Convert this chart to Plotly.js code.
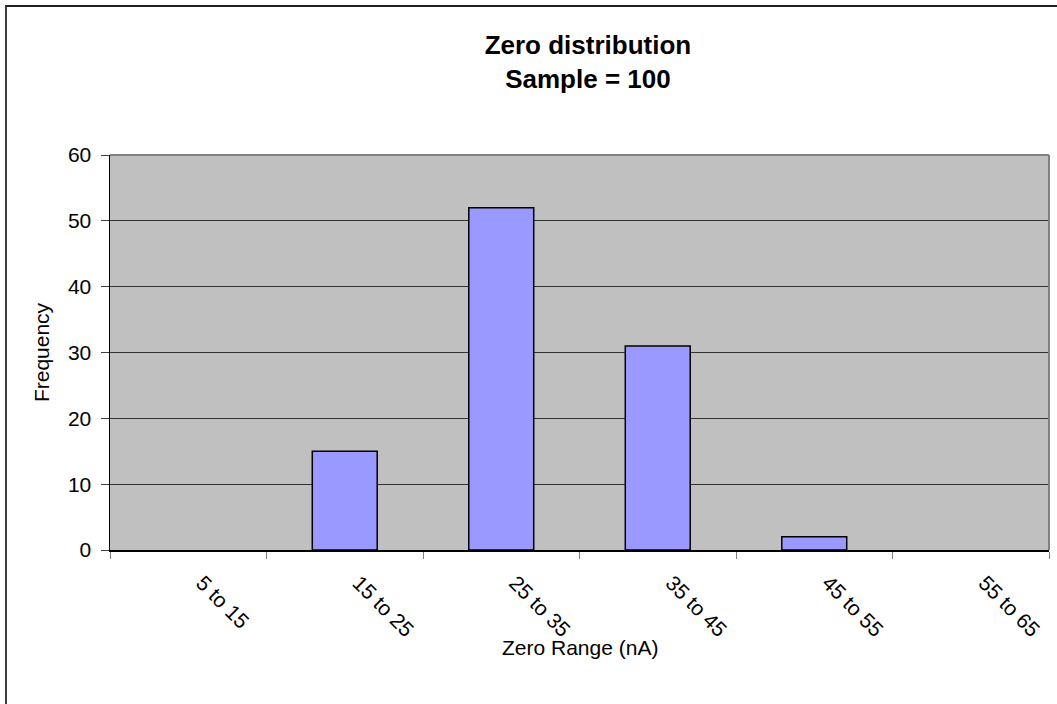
<!DOCTYPE html>
<html>
<head>
<meta charset="utf-8">
<script src="https://cdn.plot.ly/plotly-3.0.1.min.js"></script>
<style>
  html, body { margin: 0; padding: 0; background: #fff; }
  #wrap { position: relative; width: 1057px; height: 704px; overflow: hidden; }
  #chart { position: absolute; left: 0; top: 0; width: 1057px; height: 704px; }
  #frame { position: absolute; left: 5px; top: 5px; width: 1100px; height: 800px;
           border-left: 2px solid #404040; border-top: 2px solid #202020; pointer-events: none; }
</style>
</head>
<body>
<div id="wrap">
  <div id="chart"></div>
  <div id="frame"></div>
</div>
<script>
const categories = ["5 to 15", "15 to 25", "25 to 35", "35 to 45", "45 to 55", "55 to 65"];
const frequency = [0, 15, 52, 31, 2, 0];
const titleLines = ["Zero distribution", "Sample = 100"];
const xTitle = "Zero Range (nA)";
const yTitle = "Frequency";

const font = "Liberation Sans, Arial, sans-serif";

const trace = {
  type: "bar",
  x: categories,
  y: frequency,
  marker: {
    color: "#9999ff",
    line: { color: "#000000", width: frequency.map(v => (v === 0 ? 0 : 1.5)) }
  },
  hoverinfo: "x+y"
};

const layout = {
  width: 1057,
  height: 704,
  margin: { l: 110, r: 8, t: 155, b: 154 },
  paper_bgcolor: "#ffffff",
  plot_bgcolor: "#c0c0c0",
  showlegend: false,
  bargap: 0.585,
  font: { family: font, color: "#000000" },
  title: {
    text: titleLines.join("<br>"),
    font: { family: font, size: 26, color: "#000000", weight: "bold" },
    x: 538 / 1057,
    xanchor: "center",
    xref: "paper",
    y: 1 - 54 / 704,
    yanchor: "top",
    yref: "container"
  },
  xaxis: {
    type: "category",
    tickson: "boundaries",
    ticks: "outside",
    ticklen: 7,
    tickwidth: 1,
    tickcolor: "#808080",
    tickangle: 45,
    ticklabelstandoff: 11,
    ticklabelshift: 14,
    tickfont: { family: font, size: 21, color: "#000000" },
    showline: true,
    linecolor: "#000000",
    linewidth: 1.5,
    showgrid: false,
    zeroline: false,
    automargin: false
  },
  yaxis: {
    range: [0, 60],
    dtick: 10,
    tick0: 0,
    ticks: "outside",
    ticklen: 8,
    tickwidth: 1,
    tickcolor: "#404040",
    ticklabelstandoff: 5,
    tickfont: { family: font, size: 21, color: "#000000" },
    showline: true,
    linecolor: "#000000",
    linewidth: 1.5,
    showgrid: true,
    gridcolor: "#333333",
    gridwidth: 1,
    zeroline: false,
    automargin: false,
    title: { text: yTitle, font: { family: font, size: 21, color: "#000000" }, standoff: 12 }
  },
  annotations: [
    { text: xTitle, xref: "paper", yref: "paper", x: 0.5, y: -(647 - 550) / 395,
      xanchor: "center", yanchor: "middle", showarrow: false,
      font: { family: font, size: 21, color: "#000000" } }
  ],
  shapes: [
    { type: "line", xref: "paper", yref: "paper", x0: 0, x1: 1, y0: 1, y1: 1,
      line: { color: "#808080", width: 2 }, layer: "above" },
    { type: "line", xref: "paper", yref: "paper", x0: 1, x1: 1, y0: 0, y1: 1,
      line: { color: "#808080", width: 2 }, layer: "above" }
  ]
};

Plotly.newPlot("chart", [trace], layout, { displayModeBar: false, staticPlot: true });
</script>
</body>
</html>
